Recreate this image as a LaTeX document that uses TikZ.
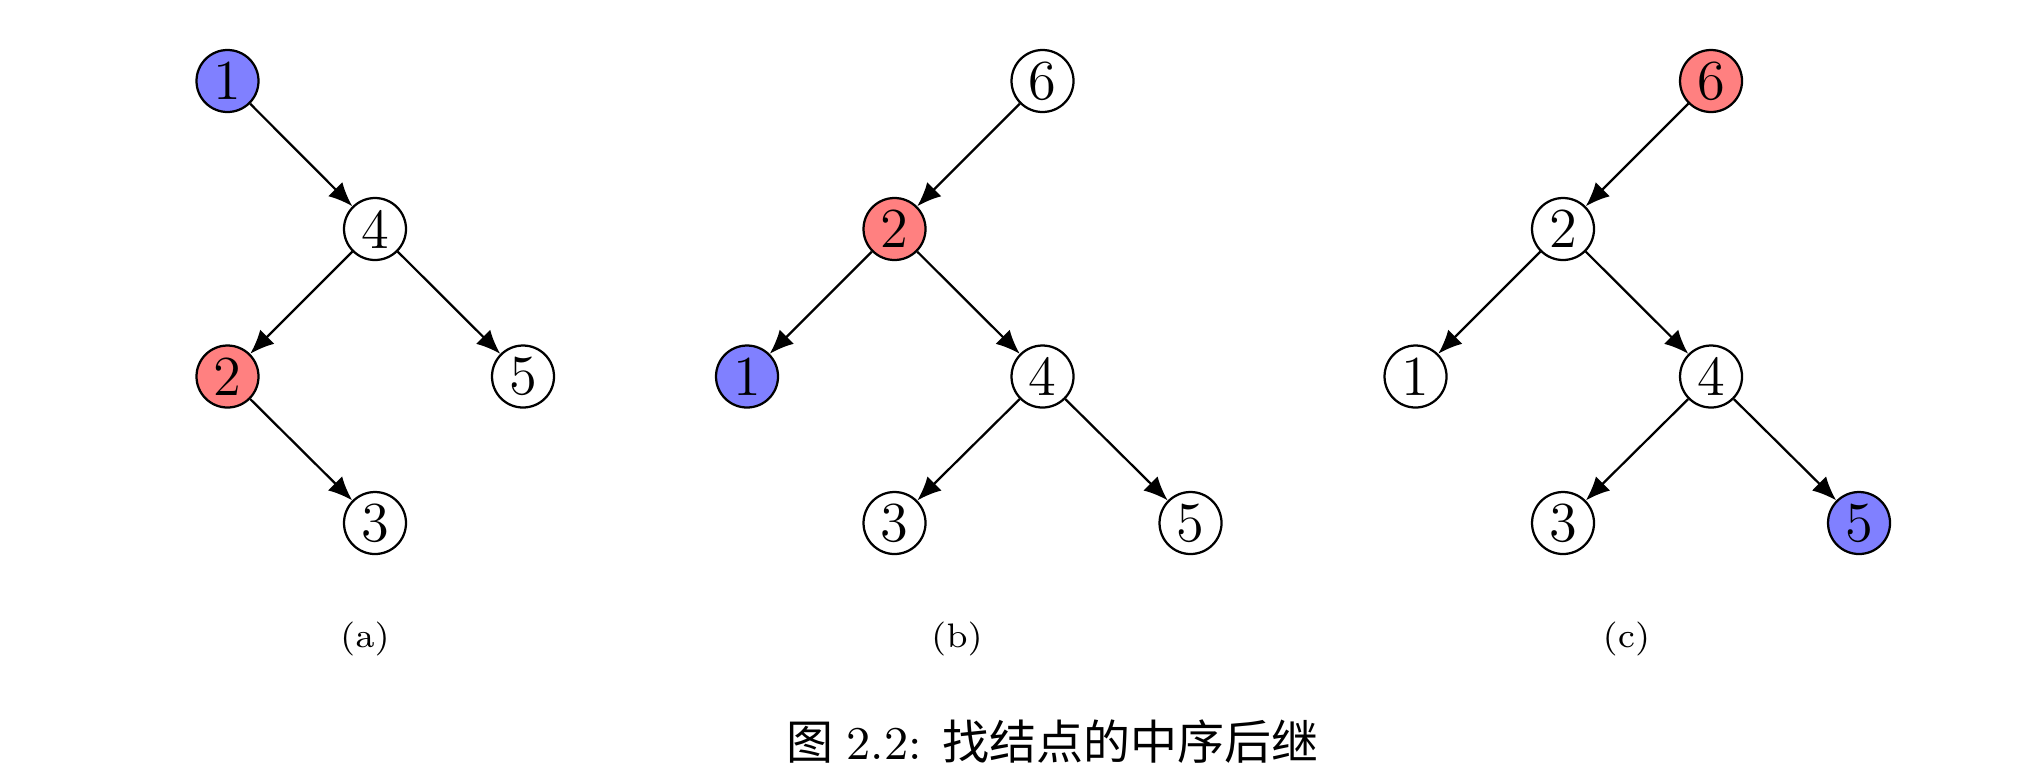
\documentclass[tikz,border=0pt]{standalone}
\usepackage{fontspec}
\newfontfamily\cjk{Noto Sans CJK SC}
\usetikzlibrary{arrows.meta}
\begin{document}
\begin{tikzpicture}[x=1pt,y=1pt,
  tn/.style={circle,draw,line width=0.45pt,minimum size=12.4pt,inner sep=0pt,font=\fontsize{11.3}{13}\selectfont},
  hlb/.style={fill=blue!50},
  hlr/.style={fill=red!50},
  edge/.style={line width=0.45pt,-{Latex[length=4.8pt,width=4pt]}},
  sub/.style={font=\fontsize{6.8}{8}\selectfont,inner sep=0pt}]
\useasboundingbox (0,0) rectangle (405.8,-155.4);
% (a)
\node[tn,hlb] (a1) at (45.5,-16.2) {1};
\node[tn] (a4) at (75.0,-45.8) {4};
\node[tn,hlr] (a2) at (45.5,-75.3) {2};
\node[tn] (a5) at (104.6,-75.3) {5};
\node[tn] (a3) at (75.0,-104.6) {3};
\draw[edge] (a1) -- (a4);
\draw[edge] (a4) -- (a2);
\draw[edge] (a4) -- (a5);
\draw[edge] (a2) -- (a3);
% (b)
\node[tn] (b6) at (208.5,-16.2) {6};
\node[tn,hlr] (b2) at (178.9,-45.8) {2};
\node[tn,hlb] (b1) at (149.4,-75.3) {1};
\node[tn] (b4) at (208.5,-75.3) {4};
\node[tn] (b3) at (178.9,-104.6) {3};
\node[tn] (b5) at (238.1,-104.6) {5};
\draw[edge] (b6) -- (b2);
\draw[edge] (b2) -- (b1);
\draw[edge] (b2) -- (b4);
\draw[edge] (b4) -- (b3);
\draw[edge] (b4) -- (b5);
% (c)
\node[tn,hlr] (c6) at (342.2,-16.2) {6};
\node[tn] (c2) at (312.6,-45.8) {2};
\node[tn] (c1) at (283.1,-75.3) {1};
\node[tn] (c4) at (342.2,-75.3) {4};
\node[tn] (c3) at (312.6,-104.6) {3};
\node[tn,hlb] (c5) at (371.8,-104.6) {5};
\draw[edge] (c6) -- (c2);
\draw[edge] (c2) -- (c1);
\draw[edge] (c2) -- (c4);
\draw[edge] (c4) -- (c3);
\draw[edge] (c4) -- (c5);
% sub labels
\node[sub] (la) at (73.0,-127.7) {(a)};
\node[sub] (lb) at (191.4,-127.7) {(b)};
\node[sub] (lc) at (325.3,-127.7) {(c)};
% caption
\node[anchor=base west,inner sep=0pt] (cap) at (157.1,-151.8) {{\cjk\fontsize{9.4}{11}\selectfont 图}\hspace{2.6pt}{\fontsize{9.4}{11}\selectfont 2.2:}\hspace{4.2pt}{\cjk\fontsize{9.4}{11}\selectfont 找结点的中序后继}};
\end{tikzpicture}
\end{document}
